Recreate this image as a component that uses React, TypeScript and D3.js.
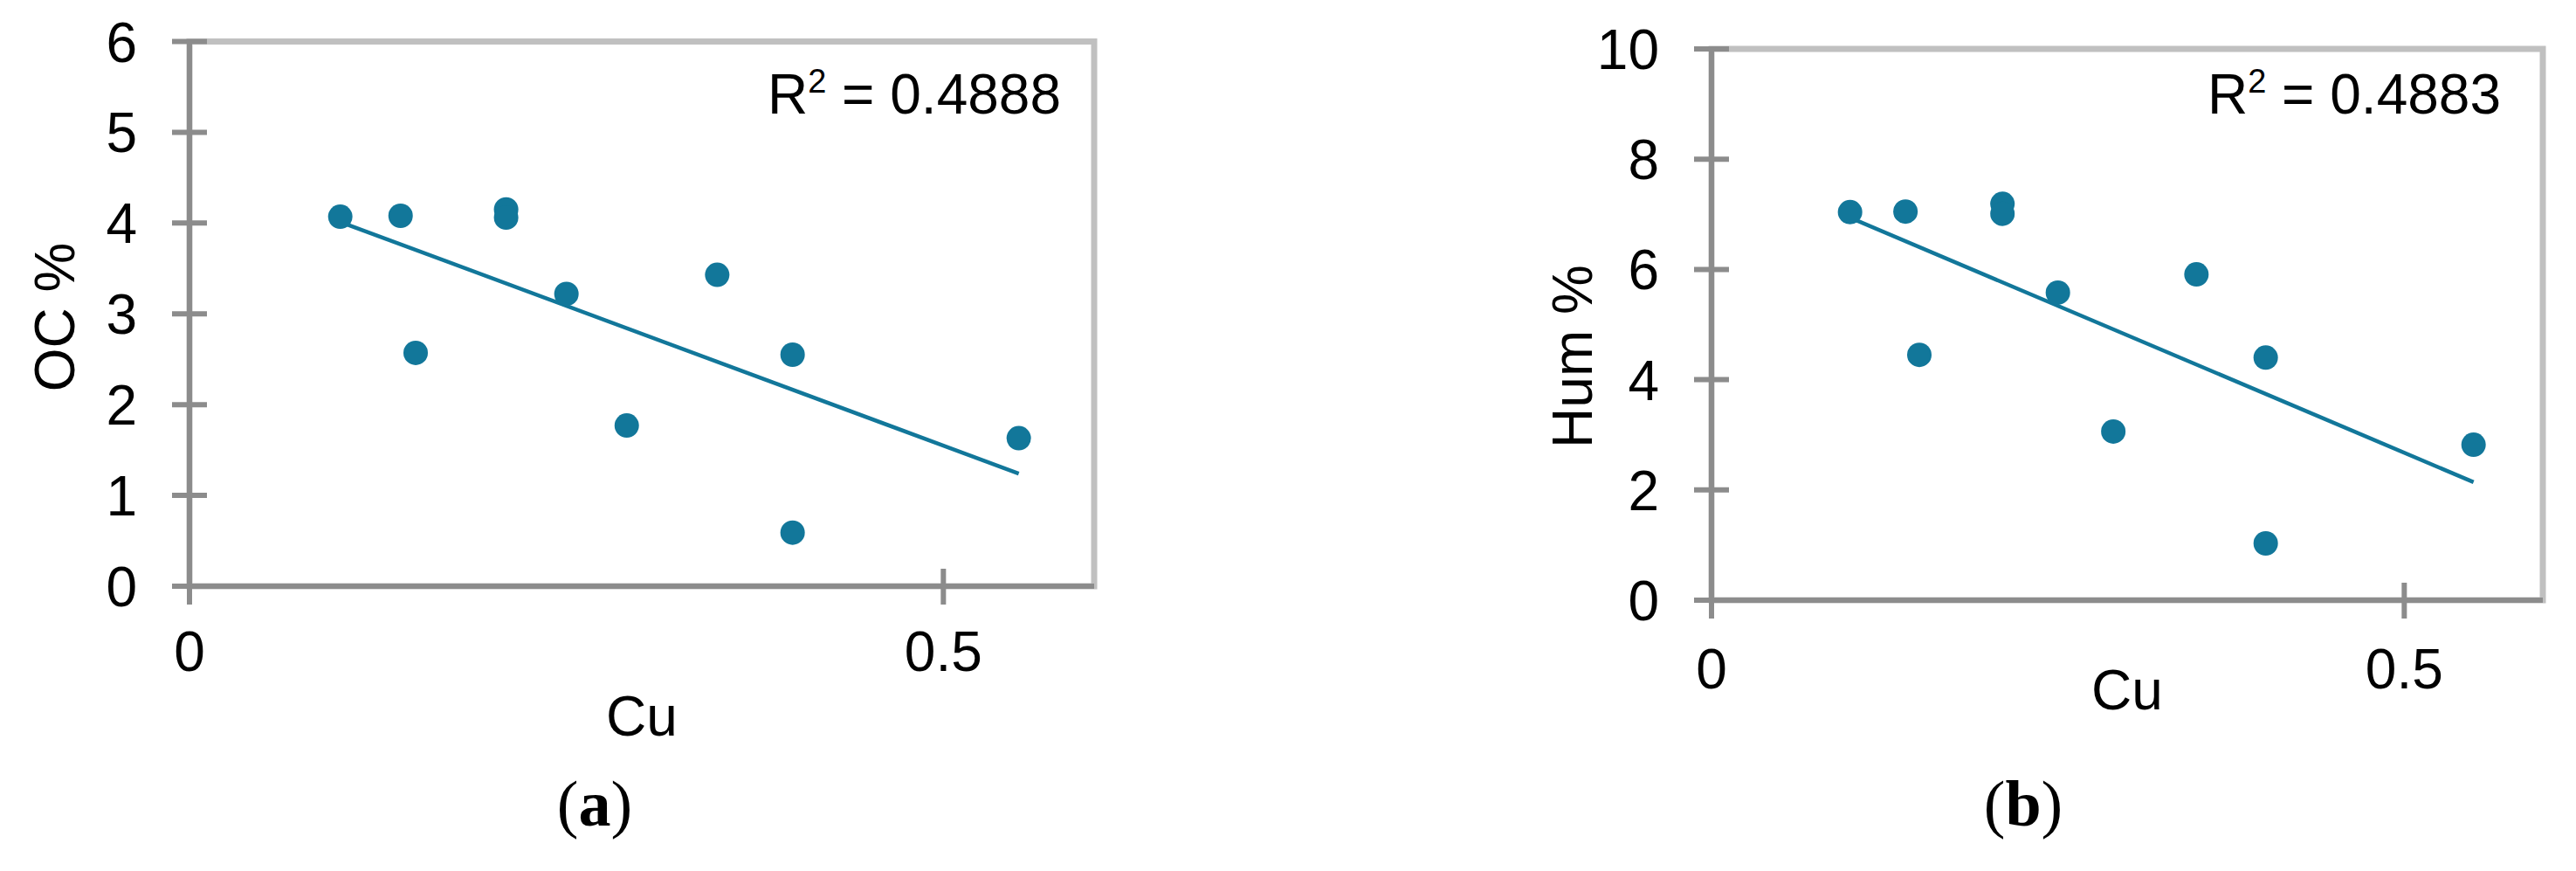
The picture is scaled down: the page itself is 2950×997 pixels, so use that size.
import React from "react";
import * as d3 from "d3";

// ---- data ----
const cuValues = [0.10, 0.14, 0.15, 0.21, 0.21, 0.25, 0.29, 0.35, 0.40, 0.40, 0.55];
const ocValues = [4.07, 4.08, 2.57, 4.15, 4.06, 3.22, 1.77, 3.43, 2.55, 0.59, 1.63];
const humValues = [7.04, 7.05, 4.45, 7.19, 7.01, 5.58, 3.06, 5.91, 4.40, 1.03, 2.82];
const xTickValues = [0, 0.5];
const ocTickValues = [0, 1, 2, 3, 4, 5, 6];
const humTickValues = [0, 2, 4, 6, 8, 10];
const r2Labels = ["0.4888", "0.4883"];
const yTitles = ["OC %", "Hum %"];
const xTitle = "Cu";
const panelLabels = ["a", "b"];

const COLOR = "#12779A";
const AXIS = "#8C8C8C";
const BORDER = "#C0C0C0";
const FONT = "'Liberation Sans', Arial, sans-serif";

type PanelProps = {
  xs: number[];
  ys: number[];
  yTicks: number[];
  yMax: number;
  left: number;
  right: number;
  top: number;
  bottom: number;
  yTitle: string;
  yTitleX: number;
  yTitleY: number;
  xLabelBaseline: number;
  xTitleBaseline: number;
  r2: string;
  r2Right: number;
  panel: string;
  panelX: number;
};

function regression(xs: number[], ys: number[]) {
  const mx = d3.mean(xs) as number;
  const my = d3.mean(ys) as number;
  let sxy = 0, sxx = 0;
  xs.forEach((x, i) => {
    sxy += (x - mx) * (ys[i] - my);
    sxx += (x - mx) * (x - mx);
  });
  const slope = sxy / sxx;
  return { slope, intercept: my - slope * mx };
}

function Panel(p: PanelProps) {
  const x = d3.scaleLinear().domain([0, 0.6]).range([p.left, p.right]);
  const y = d3.scaleLinear().domain([0, p.yMax]).range([p.bottom, p.top]);
  const { slope, intercept } = regression(p.xs, p.ys);
  const [x0, x1] = d3.extent(p.xs) as [number, number];
  const line = d3.line<number>().x((d) => x(d)).y((d) => y(intercept + slope * d));
  const fs = 64;
  return (
    <g fontFamily={FONT} fill="#000">
      {/* plot border */}
      <rect x={p.left} y={p.top} width={p.right - p.left} height={p.bottom - p.top} fill="none" stroke={BORDER} strokeWidth={7} />
      {/* axes */}
      <line x1={p.left} x2={p.left} y1={p.top} y2={p.bottom} stroke={AXIS} strokeWidth={6} />
      <line x1={p.left} x2={p.right} y1={p.bottom} y2={p.bottom} stroke={AXIS} strokeWidth={6} />
      {p.yTicks.map((t) => (
        <g key={"y" + t}>
          <line x1={p.left - 20} x2={p.left + 20} y1={y(t)} y2={y(t)} stroke={AXIS} strokeWidth={6} />
          <text x={p.left - 60} y={y(t)} dy="0.36em" textAnchor="end" fontSize={fs}>{t}</text>
        </g>
      ))}
      {xTickValues.map((t) => (
        <g key={"x" + t}>
          <line x1={x(t)} x2={x(t)} y1={p.bottom - 20} y2={p.bottom + 21} stroke={AXIS} strokeWidth={6} />
          <text x={x(t)} y={p.xLabelBaseline} textAnchor="middle" fontSize={fs}>{t}</text>
        </g>
      ))}
      {/* trendline */}
      <path d={line([x0, x1]) as string} fill="none" stroke={COLOR} strokeWidth={4.5} />
      {/* points */}
      {p.xs.map((v, i) => (
        <circle key={i} cx={x(v)} cy={y(p.ys[i])} r={14} fill={COLOR} />
      ))}
      {/* R2 */}
      <text x={p.r2Right} y={130} textAnchor="end" fontSize={fs}>
        R<tspan fontSize={38} dy={-24}>2</tspan><tspan dy={24}>{" = " + p.r2}</tspan>
      </text>
      {/* titles */}
      <text x={(p.left + p.right) / 2} y={p.xTitleBaseline} textAnchor="middle" fontSize={fs}>{xTitle}</text>
      <text transform={`translate(${p.yTitleX},${p.yTitleY}) rotate(-90)`} textAnchor="middle" fontSize={fs}>{p.yTitle}</text>
      <text x={p.panelX} y={945} textAnchor="middle" fontSize={74} fontFamily="'Liberation Serif', 'Times New Roman', serif">
        (<tspan fontWeight="bold">{p.panel}</tspan>)
      </text>
    </g>
  );
}

export default function App() {
  return (
    <svg width={2950} height={997} style={{ position: "absolute", left: 0, top: 0, background: "#fff" }}>
      <rect width={2950} height={997} fill="#fff" />
      <Panel xs={cuValues} ys={ocValues} yTicks={ocTickValues} yMax={6}
        left={217} right={1253} top={47.5} bottom={671}
        yTitle={yTitles[0]} yTitleX={85} yTitleY={363}
        xLabelBaseline={768} xTitleBaseline={842}
        r2={r2Labels[0]} r2Right={1215} panel={panelLabels[0]} panelX={681} />
      <Panel xs={cuValues} ys={humValues} yTicks={humTickValues} yMax={10}
        left={1960} right={2912} top={56} bottom={687}
        yTitle={yTitles[1]} yTitleX={1823} yTitleY={408}
        xLabelBaseline={788} xTitleBaseline={812}
        r2={r2Labels[1]} r2Right={2864} panel={panelLabels[1]} panelX={2317} />
    </svg>
  );
}
